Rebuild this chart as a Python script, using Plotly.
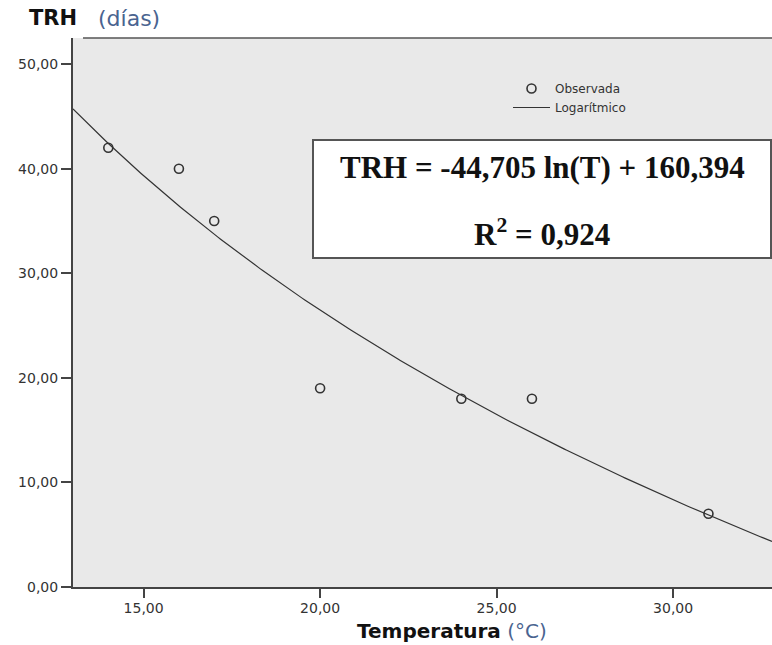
import numpy as np
import plotly.graph_objects as go

# ---- data ----
temperatura = [14, 16, 17, 20, 24, 26, 31]
trh_observada = [42, 40, 35, 19, 18, 18, 7]
coef_a = -44.705   # coefficient of ln(T)
coef_b = 160.394   # intercept
r2_text = "0,924"
x_ticks = [15, 20, 25, 30]
x_ticklabels = ["15,00", "20,00", "25,00", "30,00"]
y_ticks = [0, 10, 20, 30, 40, 50]
y_ticklabels = ["0,00", "10,00", "20,00", "30,00", "40,00", "50,00"]
x_range = [13.0, 32.8]
y_range = [0, 52.5]

# fitted logarithmic model evaluated over the axis range
x_fit = np.linspace(x_range[0], x_range[1], 300)
y_fit = coef_a * np.log(x_fit) + coef_b

W, H = 772, 645
L, R, T, B = 73, 0, 38, 58
PW, PH = W - L - R, H - T - B


def px(x):
    return (x - L) / PW


def py(y):
    return (H - B - y) / PH


fig = go.Figure()
fig.add_trace(go.Scatter(
    x=temperatura, y=trh_observada, mode="markers", name="Observada",
    marker=dict(symbol="circle-open", size=9, color="#333333",
                line=dict(width=1.6, color="#333333")),
))
fig.add_trace(go.Scatter(
    x=x_fit, y=y_fit, mode="lines", name="Logarítmico",
    line=dict(color="#333333", width=1.2),
))

tickfont = dict(size=14, color="#333333", family="DejaVu Sans, sans-serif")
fig.update_layout(
    width=W, height=H,
    margin=dict(l=L, r=R, t=T, b=B),
    paper_bgcolor="white",
    plot_bgcolor="#e9e9e9",
    font=dict(family="DejaVu Sans, sans-serif", color="#222222"),
    showlegend=True,
    legend=dict(
        x=px(508), y=py(74), xanchor="left", yanchor="top",
        bgcolor="rgba(0,0,0,0)", borderwidth=0,
        font=dict(family="DejaVu Sans, sans-serif", size=12, color="#333333"),
        itemwidth=37, tracegroupgap=0,
    ),
    xaxis=dict(
        range=x_range, tickvals=x_ticks, ticktext=x_ticklabels,
        showgrid=False, zeroline=False, showline=True,
        linecolor="#444444", linewidth=2,
        ticks="outside", ticklen=9, tickwidth=1.5, tickcolor="#444444",
        tickfont=tickfont, ticklabelstandoff=-2,
    ),
    yaxis=dict(
        range=y_range, tickvals=y_ticks, ticktext=y_ticklabels,
        showgrid=False, zeroline=False, showline=True,
        linecolor="#444444", linewidth=2,
        ticks="outside", ticklen=10, tickwidth=1.5, tickcolor="#444444",
        tickfont=tickfont,
    ),
)

# top frame line
fig.add_shape(type="line", xref="paper", yref="paper",
              x0=px(83), x1=px(772), y0=py(38), y1=py(38),
              line=dict(color="#555555", width=1.5))

# equation box
fig.add_shape(type="rect", xref="paper", yref="paper",
              x0=px(313), x1=px(771), y0=py(258), y1=py(140),
              fillcolor="white", line=dict(color="#555555", width=2))

serif = "Liberation Serif, Times New Roman, serif"
eq_text = f"TRH = {coef_a:.3f} ln(T) + {coef_b:.3f}".replace(".", ",")
fig.add_annotation(xref="paper", yref="paper", x=px(542), y=py(167),
                   xanchor="center", yanchor="middle",
                   text=f"<b>{eq_text}</b>",
                   showarrow=False, font=dict(family=serif, size=31, color="#111111"))
fig.add_annotation(xref="paper", yref="paper", x=px(542), y=py(232),
                   xanchor="center", yanchor="middle",
                   text=f"<b>R<sup>2</sup> = {r2_text}</b>",
                   showarrow=False, font=dict(family=serif, size=31, color="#111111"))

# axis titles
fig.add_annotation(xref="paper", yref="paper", x=px(27), y=py(18),
                   xanchor="left", yanchor="middle", showarrow=False,
                   text="<b>TRH</b>",
                   font=dict(family="DejaVu Sans, sans-serif", size=21, color="#111111"))
fig.add_annotation(xref="paper", yref="paper", x=px(96), y=py(18),
                   xanchor="left", yanchor="middle", showarrow=False,
                   text="(días)",
                   font=dict(family="DejaVu Sans, sans-serif", size=22, color="#4a6490"))
fig.add_annotation(xref="paper", yref="paper", x=px(452), y=py(631),
                   xanchor="center", yanchor="middle", showarrow=False,
                   text="<b>Temperatura</b> <span style='color:#4a6490'>(°C)</span>",
                   font=dict(family="DejaVu Sans, sans-serif", size=20, color="#111111"))

fig.write_html("out.html",
               config={"displayModeBar": False},
               post_script="document.body.style.margin='0px';"
                           "document.body.style.overflow='hidden';")
